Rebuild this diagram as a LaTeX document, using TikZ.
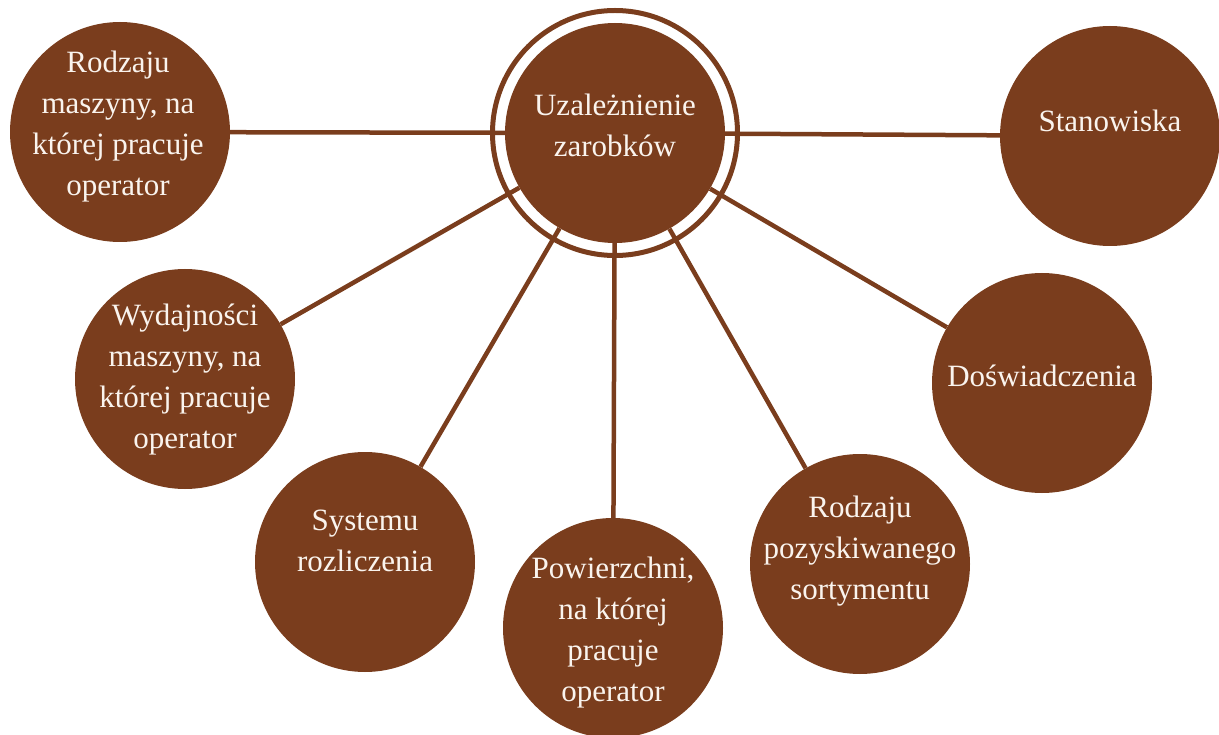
\documentclass[tikz,border=0pt]{standalone}
\usepackage{fontspec}
\setmainfont{Liberation Serif}
\definecolor{brownfill}{RGB}{122,61,29}
\definecolor{cream}{RGB}{250,244,238}
\begin{document}
\begin{tikzpicture}[x=1pt,y=-1pt,
  sat/.style={circle,fill=brownfill,minimum size=220pt,inner sep=0pt},
  lbl/.style={text=cream,align=center,inner sep=0pt,font=\fontsize{31}{41}\selectfont},
  conn/.style={draw=brownfill,line width=4.5pt}]
\useasboundingbox (0,0) rectangle (1219,735);
% nodes
\node[sat] (c) at (615,133) {};
\draw[brownfill,line width=5pt] (c.center) circle[radius=122.5pt];
\node[sat] (s1) at (120,132) {};
\node[sat] (s2) at (1110,136) {};
\node[sat] (s3) at (185,379) {};
\node[sat] (s4) at (1042,383) {};
\node[sat] (s5) at (365,562) {};
\node[sat] (s6) at (613,628) {};
\node[sat] (s7) at (860,564) {};
% connectors
\draw[conn] (c) -- (s1);
\draw[conn] (c) -- (s2);
\draw[conn] (c) -- (s3);
\draw[conn] (c) -- (s4);
\draw[conn] (c) -- (s5);
\draw[conn] (c) -- (s6);
\draw[conn] (c) -- (s7);
% labels
\node[lbl] (tc) at (615,125) {Uzależnienie\\zarobków};
\node[lbl] (t1) at (118,127) {Rodzaju\\maszyny, na\\której pracuje\\operator};
\node[lbl] (t2) at (1110,121) {Stanowiska};
\node[lbl] (t3) at (185,380) {Wydajności\\maszyny, na\\której pracuje\\operator};
\node[lbl] (t4) at (1042,376) {Doświadczenia};
\node[lbl] (t5) at (365,541) {Systemu\\rozliczenia};
\node[lbl] (t6) at (613,633) {Powierzchni,\\na której\\pracuje\\operator};
\node[lbl] (t7) at (860,551) {Rodzaju\\pozyskiwanego\\sortymentu};
\end{tikzpicture}
\end{document}
